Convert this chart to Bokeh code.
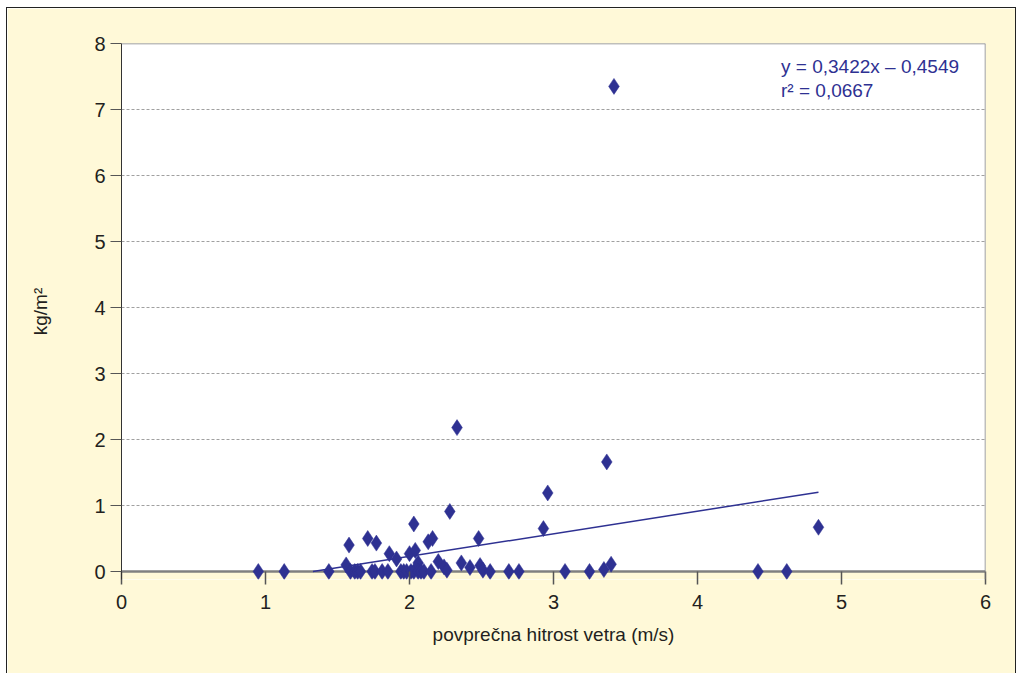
import numpy as np
from bokeh.plotting import figure
from bokeh.models import Range1d, FixedTicker, Label, ColumnDataSource, Span, BoxAnnotation
from bokeh.embed import file_html
from bokeh.resources import INLINE

# data
wind_speed = [0.95, 1.13, 1.44, 1.56, 1.58, 1.59, 1.62, 1.64, 1.66, 1.71,
              1.74, 1.76, 1.77, 1.81, 1.85, 1.86, 1.91, 1.94, 1.96, 1.98,
              2.00, 2.01, 2.03, 2.03, 2.04, 2.06, 2.06, 2.08, 2.10, 2.13,
              2.15, 2.16, 2.20, 2.24, 2.26, 2.28, 2.33, 2.36, 2.42, 2.48,
              2.49, 2.51, 2.56, 2.69, 2.76, 2.93, 2.96, 3.08, 3.25, 3.35,
              3.37, 3.40, 3.42, 4.42, 4.62, 4.84]
deposit = [0.00, 0.00, 0.00, 0.10, 0.40, 0.00, 0.00, 0.00, 0.00, 0.50,
           0.00, 0.00, 0.43, 0.00, 0.00, 0.27, 0.19, 0.00, 0.00, 0.00,
           0.27, 0.00, 0.72, 0.00, 0.32, 0.13, 0.00, 0.00, 0.00, 0.45,
           0.00, 0.50, 0.15, 0.07, 0.02, 0.91, 2.18, 0.13, 0.06, 0.50,
           0.09, 0.02, 0.00, 0.00, 0.00, 0.65, 1.19, 0.00, 0.00, 0.03,
           1.66, 0.11, 7.35, 0.00, 0.00, 0.67]
slope = 0.3422
intercept = -0.4549
r_squared = 0.0667
x_ticks = [0, 1, 2, 3, 4, 5, 6]
y_ticks = [0, 1, 2, 3, 4, 5, 6, 7, 8]
x_title = "povprečna hitrost vetra (m/s)"
y_title = "kg/m²"

BG = "#FFF9D8"
BLUE = "#2E3192"
TXT = "#231F20"
FONT = "Liberation Sans"

X_MIN, X_MAX, Y_MIN, Y_MAX = 0, 6, 0, 8
Y_PAD = 8 / 66.0  # small strip below the x axis so markers at 0 are not cut

p = figure(width=1010, height=666, output_backend="svg", toolbar_location=None,
           x_range=Range1d(X_MIN, X_MAX), y_range=Range1d(Y_MIN - Y_PAD, Y_MAX),
           min_border_left=114, min_border_right=32, min_border_top=35,
           min_border_bottom=95)
p.margin = (7, 0, 0, 6)
p.border_fill_color = BG
p.background_fill_color = "white"
p.outline_line_color = None

# yellow strip below the axis line (inside the frame)
p.add_layout(BoxAnnotation(top=Y_MIN, fill_color=BG, fill_alpha=1.0,
                           line_color=None, level="underlay"))

# frame lines: x axis at 0, right side, top
p.add_layout(Span(location=Y_MIN, dimension="width", line_color="#808080",
                  line_width=2.5, level="underlay"))
p.add_layout(Span(location=X_MAX, dimension="height", line_color="#808080",
                  line_width=1.5))
p.add_layout(Span(location=Y_MAX, dimension="width", line_color="#808080",
                  line_width=1.5))

# trend line: from where it crosses y=0 to max x
x0 = max(-intercept / slope, min(wind_speed))
x1 = max(wind_speed)
p.line([x0, x1], [slope * x0 + intercept, slope * x1 + intercept],
       line_color=BLUE, line_width=1.5)

src = ColumnDataSource(dict(x=wind_speed, y=deposit))
p.scatter("x", "y", source=src, marker="diamond", size=16,
          fill_color=BLUE, line_color=BLUE, line_width=0.5)

# axes
p.xaxis.ticker = FixedTicker(ticks=x_ticks)
p.yaxis.ticker = FixedTicker(ticks=y_ticks)
for ax in (p.xaxis[0], p.yaxis[0]):
    ax.minor_tick_line_color = None
    ax.major_tick_in = 0
    ax.major_label_text_font = FONT
    ax.major_label_text_font_size = "20px"
    ax.major_label_text_color = TXT
    ax.axis_label_text_font = FONT
    ax.axis_label_text_font_size = "19px"
    ax.axis_label_text_font_style = "normal"
    ax.axis_label_text_color = TXT

p.xaxis.axis_label = x_title
p.yaxis.axis_label = y_title
p.xaxis.axis_line_color = None
p.xaxis.major_tick_in = 8
p.xaxis.major_tick_out = 5
p.xaxis.major_tick_line_color = "#555555"
p.xaxis.major_tick_line_width = 1.5
p.xaxis.major_label_standoff = 10
p.xaxis.axis_label_standoff = 12

p.yaxis.major_tick_out = 11
p.yaxis.axis_line_color = "#333333"
p.yaxis.axis_line_width = 1
p.yaxis.major_tick_line_color = "#555555"
p.yaxis.major_label_standoff = 5
p.yaxis.axis_label_standoff = 40

p.xgrid.grid_line_color = None
p.ygrid.grid_line_color = "#A0A0A0"
p.ygrid.grid_line_dash = "3 2"
p.ygrid.grid_line_width = 1

eq1 = "y = {:.4f}x – {:.4f}".format(slope, abs(intercept)).replace(".", ",")
eq2 = "r² = {:.4f}".format(r_squared).replace(".", ",")
for txt, yy in ((eq1, 7.65), (eq2, 7.29)):
    p.add_layout(Label(x=4.58, y=yy, text=txt, text_font=FONT,
                       text_font_size="19px", text_color=BLUE,
                       text_baseline="middle", text_align="left"))

p.styles = {"border-left": "1px solid #222", "border-top": "1px solid #222",
            "border-right": "1px solid #222"}

open("out.html", "w").write(file_html(p, INLINE))
